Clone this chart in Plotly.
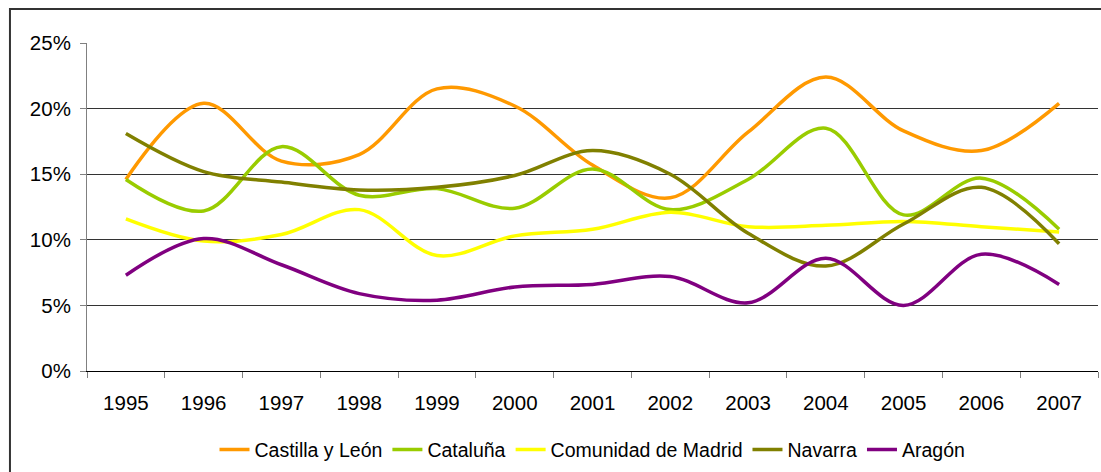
import plotly.graph_objects as go

years = ["1995", "1996", "1997", "1998", "1999", "2000", "2001",
         "2002", "2003", "2004", "2005", "2006", "2007"]

castilla_y_leon = [14.6, 20.4, 16.0, 16.5, 21.5, 20.2, 15.7, 13.2, 18.2, 22.4, 18.3, 16.8, 20.4]
cataluna = [14.6, 12.2, 17.1, 13.4, 13.9, 12.4, 15.4, 12.3, 14.6, 18.5, 11.9, 14.7, 10.8]
madrid = [11.6, 9.9, 10.4, 12.3, 8.8, 10.3, 10.8, 12.1, 11.0, 11.1, 11.4, 11.0, 10.6]
navarra = [18.1, 15.2, 14.4, 13.8, 14.0, 14.9, 16.8, 15.0, 10.5, 8.0, 11.2, 14.0, 9.7]
aragon = [7.3, 10.1, 8.1, 5.9, 5.4, 6.4, 6.6, 7.2, 5.2, 8.6, 5.0, 8.9, 6.6]

series_names = ["Castilla y León", "Cataluña", "Comunidad de Madrid", "Navarra", "Aragón"]
series_values = [castilla_y_leon, cataluna, madrid, navarra, aragon]
series_colors = ["#FF9900", "#99CC00", "#FFFF00", "#808000", "#800080"]

y_ticks = [0, 5, 10, 15, 20, 25]
y_tick_labels = ["0%", "5%", "10%", "15%", "20%", "25%"]
grid_vals = [5, 10, 15, 20]

fig = go.Figure()
for name, vals, col in zip(series_names, series_values, series_colors):
    fig.add_trace(go.Scatter(
        x=years, y=vals, name=name, mode="lines",
        line=dict(color=col, width=3.5, shape="spline", smoothing=1.0),
    ))

# invisible trace on second axis to hold gridlines
fig.add_trace(go.Scatter(x=years, y=[None] * len(years), yaxis="y2",
                         showlegend=False, hoverinfo="skip"))

font = "Liberation Sans, Arial, sans-serif"
fig.update_layout(
    width=1101, height=472,
    margin=dict(l=87, r=3, t=43, b=101, autoexpand=False),
    paper_bgcolor="white", plot_bgcolor="white",
    font=dict(family=font, size=20, color="black"),
    showlegend=True,
    legend=dict(orientation="h", x=0.5, xanchor="center", y=-0.24, yanchor="middle",
                font=dict(size=19.5, family=font), itemwidth=30, tracegroupgap=0),
    xaxis=dict(type="category", range=[-0.5, 12.5], showgrid=False,
               showline=True, linecolor="black", linewidth=1,
               ticks="outside", tickson="boundaries", ticklen=6, tickcolor="#808080",
               tickfont=dict(size=20.5, family=font), ticklabelstandoff=13),
    yaxis=dict(range=[0, 25], tickvals=y_ticks, ticktext=y_tick_labels,
               showgrid=False, zeroline=False, showline=True, linecolor="#808080",
               linewidth=1, ticks="outside", ticklen=6, tickcolor="#808080",
               tickfont=dict(size=20.5, family=font), ticklabelstandoff=5),
    yaxis2=dict(range=[0, 25], overlaying="y", tickvals=grid_vals, showgrid=True,
                gridcolor="#333333", gridwidth=1, showticklabels=False, zeroline=False,
                showline=False, ticks=""),
    shapes=[dict(type="path", xref="paper", yref="paper",
                 path="M -0.0762,-0.5 L -0.0762,1.1037 L 1.2,1.1037",
                 line=dict(color="#333333", width=2), layer="below")],
)

fig.write_html(
    "out.html",
    config={"displayModeBar": False},
    post_script="document.body.style.margin='0';document.body.style.overflow='hidden';",
)
